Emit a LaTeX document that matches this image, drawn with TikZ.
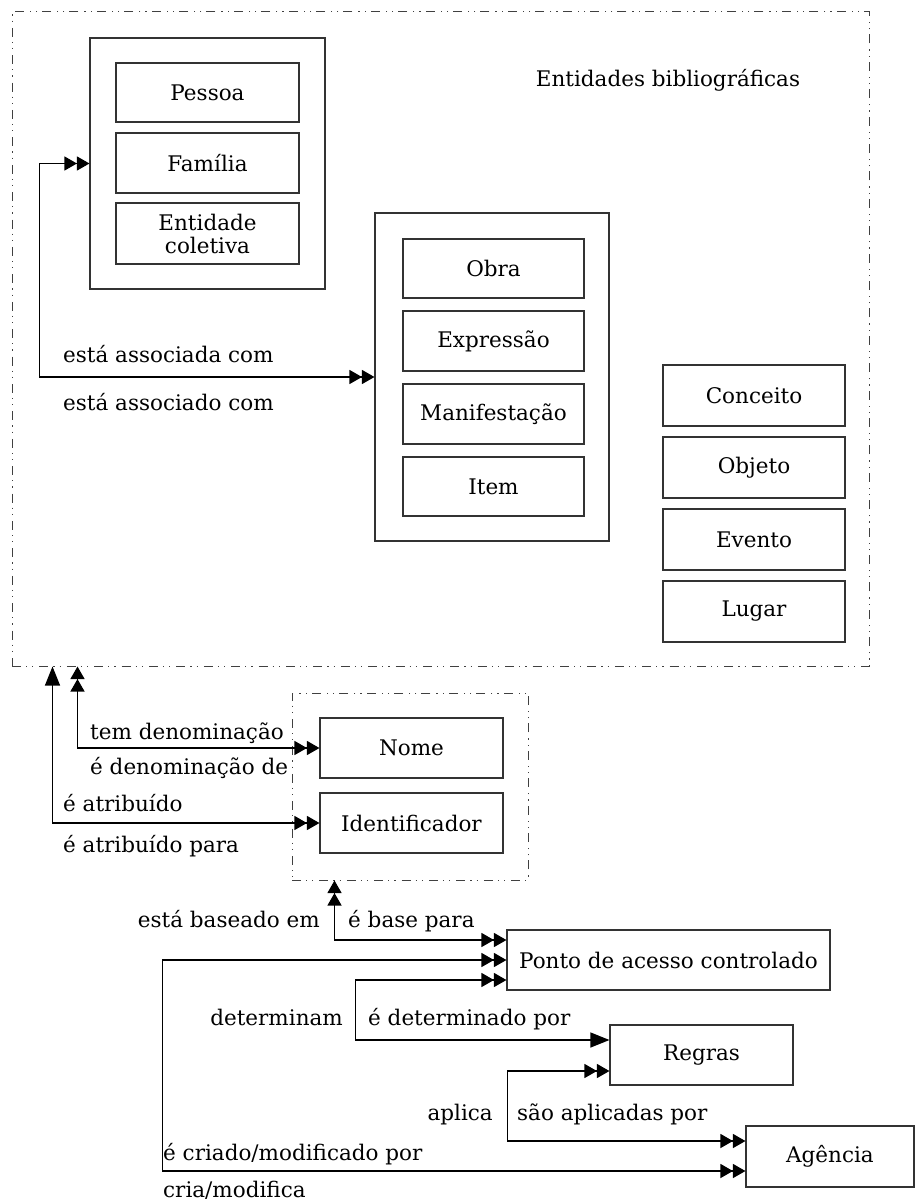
\documentclass[tikz,border=0pt]{standalone}
\usepackage{fontspec}
\setmainfont{DejaVu Serif}
\usetikzlibrary{arrows.meta}
\begin{document}
\begin{tikzpicture}[x=1pt,y=-1pt,
  every node/.style={font=\fontsize{21.5}{23}\selectfont},
  box/.style={draw=black!80, line width=1.1pt, inner sep=0pt, align=center, minimum width=183pt, minimum height=60pt},
  grp/.style={draw=black!80, line width=1.1pt, inner sep=0pt},
  dd/.style={draw=black!75, line width=1pt, inner sep=0pt, dash pattern=on 9pt off 5pt on 1.2pt off 5pt on 1.2pt off 6pt},
  lbl/.style={inner sep=0pt},
  conn/.style={line width=1.2pt, black},
  dtri/.tip={Triangle[length=12.5pt,width=14pt] Triangle[length=12.5pt,width=14pt]},
  stri/.tip={Triangle[length=19pt,width=15pt]}
]
\useasboundingbox (0,0) rectangle (917,1201);

% main dotted area
\node[dd, minimum width=857pt, minimum height=654pt] (main) at (440.5,339) {};
\node[lbl, anchor=base] (entbib) at (668,87) {Entidades bibliográficas};

% person group
\node[grp, minimum width=235pt, minimum height=251pt] (persgrp) at (207.5,163.5) {};
\node[box, minimum height=59pt] (pessoa) at (207.5,92.5) {Pessoa};
\node[box] (familia) at (207.5,163) {Família};
\node[box, minimum height=61pt] (entidade) at (207.5,233.5) {Entidade\\coletiva};

% work group
\node[grp, minimum width=234pt, minimum height=328pt] (workgrp) at (492,377) {};
\node[box, minimum width=181pt, minimum height=59pt] (obra) at (493.5,268.5) {Obra};
\node[box, minimum width=181pt] (expressao) at (493.5,341) {Expressão};
\node[box, minimum width=181pt] (manif) at (493.5,414) {Manifestação};
\node[box, minimum width=181pt, minimum height=59pt] (item) at (493.5,486.5) {Item};

% right column
\node[box, minimum width=182pt, minimum height=61pt] (conceito) at (754,395.5) {Conceito};
\node[box, minimum width=182pt, minimum height=61pt] (objeto) at (754,467.5) {Objeto};
\node[box, minimum width=182pt, minimum height=61pt] (evento) at (754,539.5) {Evento};
\node[box, minimum width=182pt, minimum height=61pt] (lugar) at (754,611.5) {Lugar};

% name group
\node[dd, minimum width=236pt, minimum height=187pt] (nomegrp) at (410,786.5) {};
\node[box] (nome) at (411.5,748) {Nome};
\node[box] (ident) at (411.5,823) {Identificador};

% lower boxes
\node[box, minimum width=323pt] (ponto) at (668.5,960) {Ponto de acesso controlado};
\node[box] (regras) at (701.5,1055) {Regras};
\node[box, minimum width=168pt, minimum height=61pt] (agencia) at (830,1156.5) {Agência};

% connectors
\draw[conn, dtri-dtri] (persgrp.west) -- ++(-50,0) |- (workgrp.west);
\draw[conn, dtri-dtri] ([xshift=66pt]main.south west) |- (nome.west);
\draw[conn, stri-dtri] ([xshift=41pt]main.south west) |- (ident.west);
\draw[conn, dtri-dtri] ([xshift=43pt]nomegrp.south west) |- ([yshift=20pt]ponto.west);
\draw[conn, dtri-dtri] (ponto.west) -- ++(-344,0) |- ([yshift=-14.5pt]agencia.west);
\draw[conn, dtri-stri] ([yshift=-20pt]ponto.west) -- ++(-151,0) |- ([yshift=15pt]regras.west);
\draw[conn, dtri-dtri] ([yshift=-16pt]regras.west) -- ++(-102,0) |- ([yshift=15.5pt]agencia.west);

% labels
\node[lbl, anchor=base west] (l1) at (63,362) {está associada com};
\node[lbl, anchor=base west] (l2) at (63,410) {está associado com};
\node[lbl, anchor=base west] (l3) at (90,739) {tem denominação};
\node[lbl, anchor=base west] (l4) at (90,774) {é denominação de};
\node[lbl, anchor=base west] (l5) at (63,811) {é atribuído};
\node[lbl, anchor=base west] (l6) at (63,852) {é atribuído para};
\node[lbl, anchor=base east] (l7) at (320,927) {está baseado em};
\node[lbl, anchor=base west] (l8) at (348,927) {é base para};
\node[lbl, anchor=base east] (l9) at (343,1025) {determinam};
\node[lbl, anchor=base west] (l10) at (368,1025) {é determinado por};
\node[lbl, anchor=base east] (l11) at (493,1120) {aplica};
\node[lbl, anchor=base west] (l12) at (517,1120) {são aplicadas por};
\node[lbl, anchor=base west] (l13) at (163,1160) {é criado/modificado por};
\node[lbl, anchor=base west] (l14) at (163,1197) {cria/modifica};
\end{tikzpicture}
\end{document}
